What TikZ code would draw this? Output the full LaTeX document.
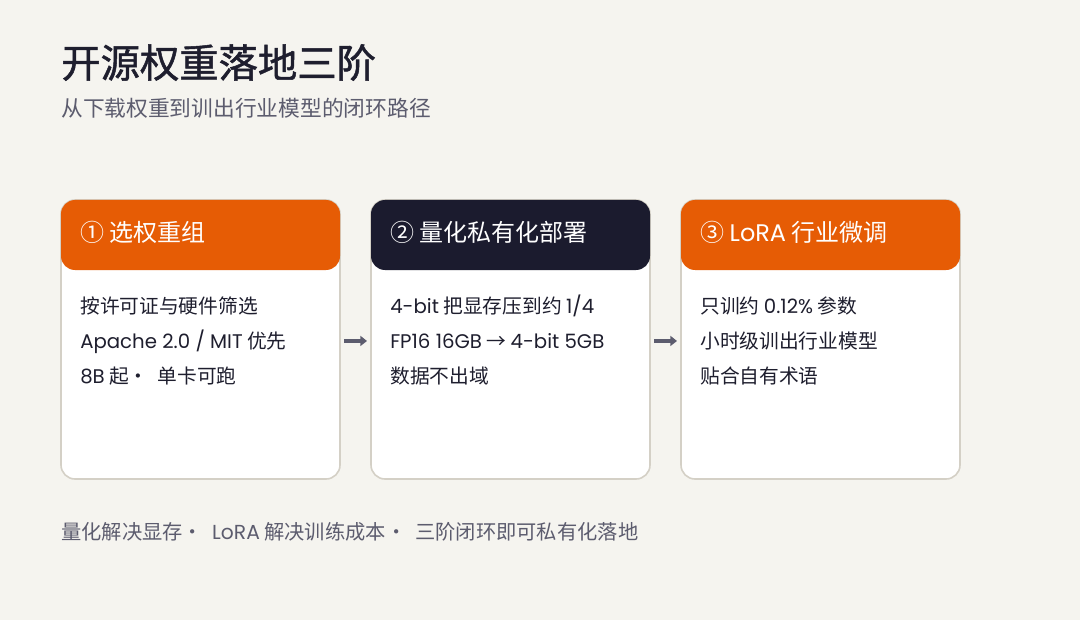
\documentclass[tikz,border=0pt]{standalone}
\usepackage{fontspec}
\setmainfont{Noto Sans CJK SC}
\newfontfamily\lat{Poppins}
\newfontfamily\titlefont[FakeBold=1.3]{Noto Sans CJK SC}
\usetikzlibrary{arrows.meta}
\definecolor{bg}{HTML}{F5F4EF}
\definecolor{accent}{HTML}{E65C05}
\definecolor{navy}{HTML}{1B1B2E}
\definecolor{border}{HTML}{D4D0C6}
\definecolor{ink}{HTML}{1E1E2E}
\definecolor{muted}{HTML}{5C5C6E}
\tikzset{
  card/.style={draw=border, line width=1.2pt, fill=white, rounded corners=10.5pt,
    minimum width=209.25pt, minimum height=209.25pt, inner sep=0pt, outer sep=0pt},
  hdr/.style={rounded corners=10.5pt, minimum width=209.25pt, minimum height=52.5pt,
    inner sep=0pt, outer sep=0pt},
  hdrtext/.style={anchor=base west, inner sep=0pt, text=white, font=\fontsize{18}{20}\selectfont},
  body/.style={anchor=base west, inner sep=0pt, text=ink, font=\fontsize{14.8}{17}\selectfont},
  arr/.style={draw=muted, line width=2.6pt, -{Triangle[length=5pt,width=7.5pt]}},
}
\begin{document}
\begin{tikzpicture}[x=0.75pt,y=-0.75pt]
\useasboundingbox[fill=bg] (0,0) rectangle (1080,620);
\node[anchor=base west, inner sep=0pt, text=ink, font=\titlefont\fontsize{29.5}{34}\selectfont] (title) at (61,77.5) {开源权重落地三阶};
\node[anchor=base west, inner sep=0pt, text=muted, font=\fontsize{16.3}{19}\selectfont] (sub) at (61,116.5) {从下载权重到训出行业模型的闭环路径};

\node[card] (c1) at (200.5,339.5) {};
\node[card] (c2) at (510.5,339.5) {};
\node[card] (c3) at (820.5,339.5) {};

\node[hdr, fill=accent] (h1) at (200.5,235) {};
\node[hdr, fill=navy] (h2) at (510.5,235) {};
\node[hdr, fill=accent] (h3) at (820.5,235) {};

\node[hdrtext] (t1) at (80,241) {① 选权重组};
\node[hdrtext] (t2) at (390,241) {② 量化私有化部署};
\node[hdrtext] (t3) at (700,241) {③ {\lat LoRA} 行业微调};

\node[body] (a1) at (80,313) {按许可证与硬件筛选};
\node[body] (a2) at (80,348) {{\lat Apache 2.0 / MIT} 优先};
\node[body] (a3) at (80,383) {{\lat 8B} 起·\ \ 单卡可跑};

\node[body] (b1) at (390,313) {{\lat 4-bit} 把显存压到约 {\lat 1/4}};
\node[body] (b2) at (390,348) {{\lat FP16 16GB} → {\lat 4-bit 5GB}};
\node[body] (b3) at (390,383) {数据不出域};

\node[body] (d1) at (700,313) {只训约 {\lat 0.12\%} 参数};
\node[body] (d2) at (700,348) {小时级训出行业模型};
\node[body] (d3) at (700,383) {贴合自有术语};

\draw[arr] ([xshift=3pt,yshift=-1.1pt]c1.east) -- ([xshift=-3pt,yshift=-1.1pt]c2.west);
\draw[arr] ([xshift=3pt,yshift=-1.1pt]c2.east) -- ([xshift=-3pt,yshift=-1.1pt]c3.west);

\node[anchor=base west, inner sep=0pt, text=muted, font=\fontsize{15.2}{17}\selectfont] (foot) at (61,539) {量化解决显存·\ \ {\lat LoRA} 解决训练成本·\ \ 三阶闭环即可私有化落地};
\end{tikzpicture}
\end{document}
